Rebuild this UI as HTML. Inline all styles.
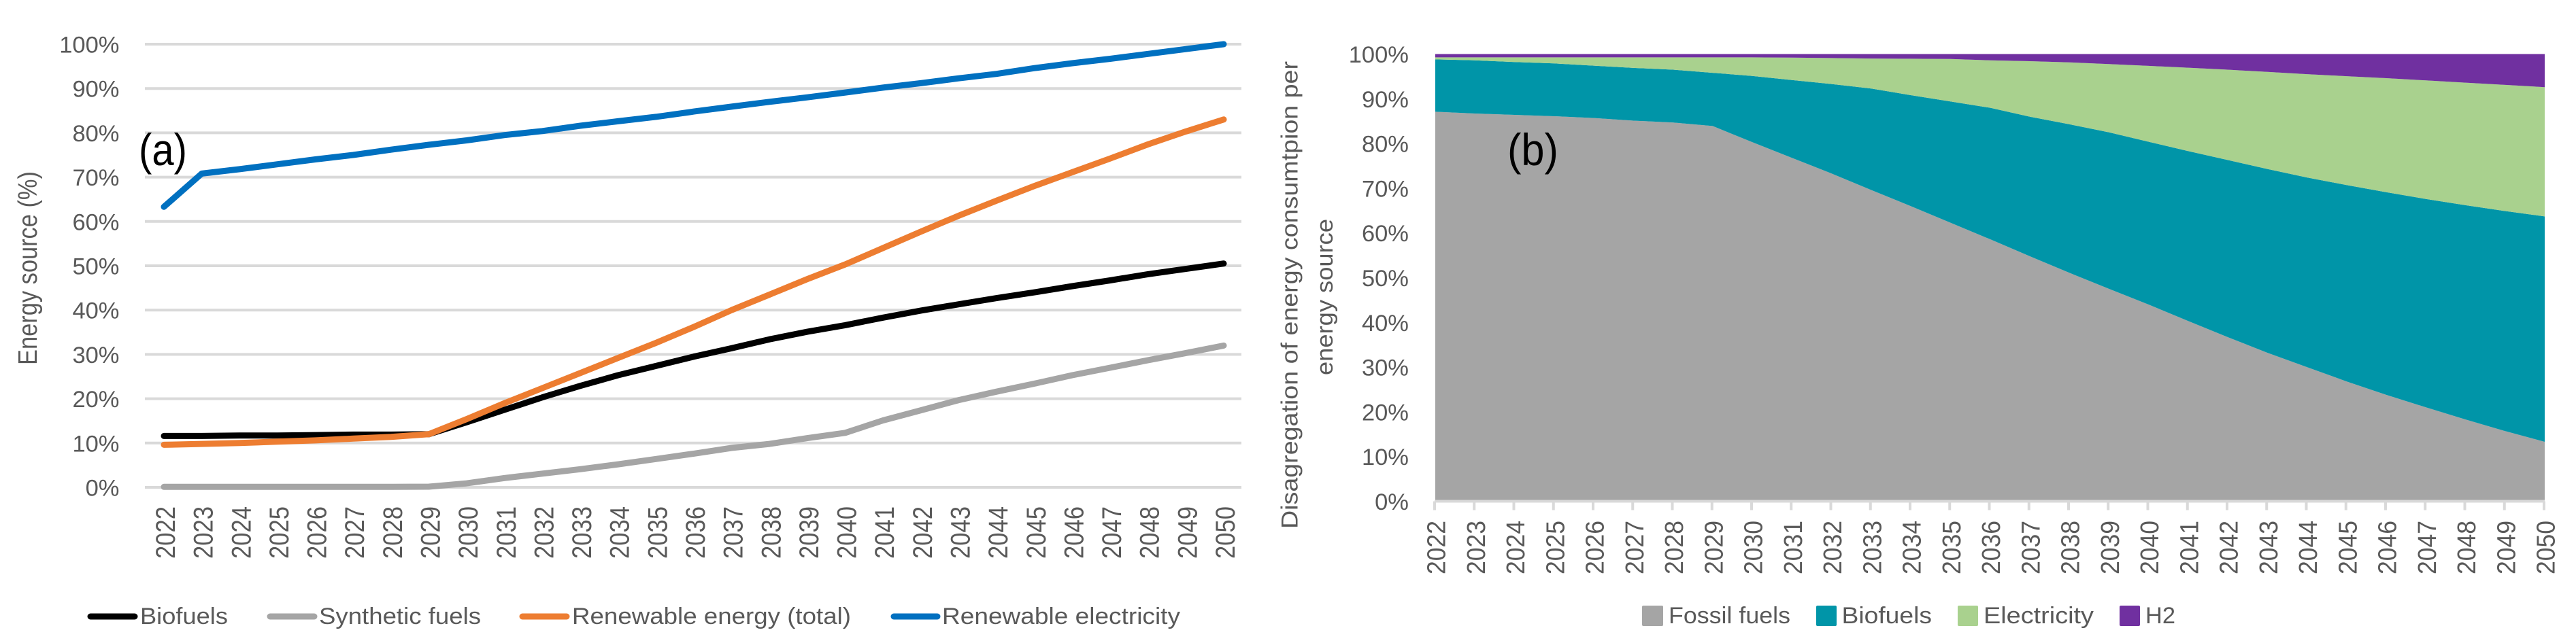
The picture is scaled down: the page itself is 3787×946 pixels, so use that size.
<!DOCTYPE html>
<html lang="en">
<head>
<meta charset="utf-8">
<title>Energy source shares 2022-2050</title>
<style>
html,body{margin:0;padding:0;background:#fff}
svg{display:block}
text{font-family:"Liberation Sans",sans-serif;fill:#595959}
</style>
</head>
<body>
<svg id="figure" xmlns="http://www.w3.org/2000/svg" width="3787" height="946" viewBox="0 0 3787 946">
  <rect width="3787" height="946" fill="#fff"/>

  <g id="chart-a">
    <g id="a-grid"></g>
    <g id="a-yticks"></g>
    <g id="a-xticks"></g>
    <g id="a-lines"></g>
    <text transform="translate(54,537) rotate(-90) scale(1,1.12)" font-size="34.4" textLength="285" lengthAdjust="spacingAndGlyphs">Energy source (%)</text>
    <text x="204" y="243" font-size="66" textLength="71" lengthAdjust="spacingAndGlyphs" style="fill:#000">(a)</text>
    <g>
      <g>
        <line x1="133" y1="907" x2="198" y2="907" stroke="#000000" stroke-width="9" stroke-linecap="round"/>
        <text x="206" y="918" font-size="34.5" textLength="129" lengthAdjust="spacingAndGlyphs">Biofuels</text>
      </g>
      <g>
        <line x1="397" y1="907" x2="462" y2="907" stroke="#A5A5A5" stroke-width="9" stroke-linecap="round"/>
        <text x="469" y="918" font-size="34.5" textLength="238" lengthAdjust="spacingAndGlyphs">Synthetic fuels</text>
      </g>
      <g>
        <line x1="768" y1="907" x2="833" y2="907" stroke="#ED7D31" stroke-width="9" stroke-linecap="round"/>
        <text x="841" y="918" font-size="34.5" textLength="410" lengthAdjust="spacingAndGlyphs">Renewable energy (total)</text>
      </g>
      <g>
        <line x1="1314" y1="907" x2="1378" y2="907" stroke="#0070C0" stroke-width="9" stroke-linecap="round"/>
        <text x="1385" y="918" font-size="34.5" textLength="350" lengthAdjust="spacingAndGlyphs">Renewable electricity</text>
      </g>
    </g>
  </g>

  <g id="chart-b">
    <g id="b-areas"></g>
    <g id="b-axis"></g>
    <g id="b-yticks"></g>
    <g id="b-xticks"></g>
    <text transform="translate(1907.7,778) rotate(-90)" font-size="34.5" textLength="688" lengthAdjust="spacingAndGlyphs">Disagregation of energy consumtpion per</text>
    <text transform="translate(1959,552) rotate(-90)" font-size="34.5" textLength="230" lengthAdjust="spacingAndGlyphs">energy source</text>
    <text x="2216" y="243" font-size="66" textLength="75" lengthAdjust="spacingAndGlyphs" style="fill:#000">(b)</text>
    <g>
      <g>
        <rect x="2414" y="891" width="31" height="30" rx="2" fill="#A5A5A5"/>
        <text x="2453" y="917" font-size="34.5" textLength="179" lengthAdjust="spacingAndGlyphs">Fossil fuels</text>
      </g>
      <g>
        <rect x="2670" y="891" width="30" height="30" rx="2" fill="#0095A8"/>
        <text x="2707.5" y="917" font-size="34.5" textLength="132.5" lengthAdjust="spacingAndGlyphs">Biofuels</text>
      </g>
      <g>
        <rect x="2878" y="891" width="30" height="30" rx="2" fill="#A9D18E"/>
        <text x="2916" y="917" font-size="34.5" textLength="162" lengthAdjust="spacingAndGlyphs">Electricity</text>
      </g>
      <g>
        <rect x="3116" y="891" width="30" height="30" rx="2" fill="#7030A0"/>
        <text x="3154" y="917" font-size="34.5" textLength="44" lengthAdjust="spacingAndGlyphs">H2</text>
      </g>
    </g>
  </g>
</svg>

<script>
const years = [2022,2023,2024,2025,2026,2027,2028,2029,2030,2031,2032,2033,2034,2035,2036,2037,2038,2039,2040,2041,2042,2043,2044,2045,2046,2047,2048,2049,2050];
const yTickLabels = ['0%','10%','20%','30%','40%','50%','60%','70%','80%','90%','100%'];
const yTickValues = [0,10,20,30,40,50,60,70,80,90,100];

// Panel (a) series, % of energy source
const biofuelsShare = [11.6,11.6,11.7,11.7,11.8,11.9,11.9,12,14.7,17.5,20.3,22.9,25.3,27.4,29.5,31.4,33.4,35.1,36.6,38.3,39.9,41.3,42.7,44,45.4,46.7,48.1,49.3,50.5];
const syntheticFuelsShare = [0.1,0.1,0.1,0.1,0.1,0.1,0.1,0.15,0.9,2.1,3.1,4.1,5.2,6.4,7.6,8.9,9.8,11.1,12.3,15.1,17.4,19.7,21.6,23.4,25.3,27,28.7,30.3,32];
const renewableTotalShare = [9.6,9.8,10,10.3,10.6,11,11.4,12,15.4,19,22.4,25.8,29.2,32.6,36.2,40,43.5,47,50.3,54,57.7,61.3,64.7,68,71.1,74.2,77.4,80.3,83];
const renewableElectricityShare = [63.3,70.8,71.8,72.9,74,75,76.2,77.3,78.3,79.5,80.4,81.6,82.6,83.6,84.8,85.9,87,88,89.1,90.2,91.2,92.3,93.3,94.6,95.7,96.7,97.8,98.9,100];

// Panel (b) stacked series, % of energy consumption
const fossilArea = [87.1,86.7,86.4,86.1,85.7,85.1,84.7,83.9,80.3,76.8,73.3,69.6,66,62.3,58.6,54.8,51.1,47.5,44,40.3,36.7,33.2,30,26.8,23.8,21,18.3,15.7,13.3];
const biofuelsArea = [11.7,11.9,11.8,11.8,11.7,11.8,11.8,11.9,14.8,17.4,20,22.7,24.8,27.1,29.4,31.2,33.2,35,36.4,38,39.6,41.1,42.4,43.9,45.3,46.6,47.9,49.2,50.4];
const electricityArea = [0.45,0.65,1.05,1.35,1.85,2.35,2.75,3.45,4.15,5,5.8,6.7,8.15,9.5,10.6,12.4,13.85,15.25,16.95,18.65,20.2,21.7,23.1,24.35,25.5,26.5,27.4,28.2,28.9];
const h2Area = [0.75,0.75,0.75,0.75,0.75,0.75,0.75,0.75,0.75,0.8,0.9,1,1.05,1.1,1.4,1.6,1.85,2.25,2.65,3.05,3.5,4,4.5,4.95,5.4,5.9,6.4,6.9,7.4];

const NS = 'http://www.w3.org/2000/svg';
function mk(tag, parent, attrs, txt) {
  const el = document.createElementNS(NS, tag);
  for (const k in attrs) el.setAttribute(k, attrs[k]);
  if (txt !== undefined) el.textContent = txt;
  parent.appendChild(el);
  return el;
}
const $ = id => document.getElementById(id);

// Axis functions
const xA = i => 241 + (1799 - 241) * i / (years.length - 1);
const yA = v => 717 - 6.52 * v;
const xB = i => 2110 + (3741 - 2110) * i / (years.length - 1);
const yB = v => 737.5 - 6.58 * v;

// Panel (a) gridlines and y ticks
yTickValues.forEach((v, i) => {
  const g = mk('line', $('a-grid'), {x1: 213, x2: 1825, y1: yA(v), y2: yA(v), stroke: '#D9D9D9', 'stroke-width': 4});
  
  
  const t = mk('text', $('a-yticks'), {x: 175.5, y: yA(v) + 12.5, 'text-anchor': 'end', 'font-size': 34.5}, yTickLabels[i]);
  
  
});

// Panel (a) year labels
years.forEach((yr, i) => {
  const t = mk('text', $('a-xticks'), {transform: 'translate(' + (xA(i) + 16) + ',822) rotate(-90) scale(1,1.16)', 'font-size': 34.6, textLength: 77, lengthAdjust: 'spacingAndGlyphs'}, yr);
  
  
});

// Panel (a) lines
const lineNames = ['biofuels', 'synthetic-fuels', 'renewable-electricity', 'renewable-total'];
const lineValues = [biofuelsShare, syntheticFuelsShare, renewableElectricityShare, renewableTotalShare];
const lineColors = ['#000000', '#A5A5A5', '#0070C0', '#ED7D31'];
lineValues.forEach((vals, s) => {
  const d = vals.map((v, i) => (i ? 'L' : 'M') + xA(i).toFixed(1) + ' ' + yA(v).toFixed(1)).join(' ');
  const p = mk('path', $('a-lines'), {d: d, fill: 'none', stroke: lineColors[s], 'stroke-width': 9, 'stroke-linecap': 'round', 'stroke-linejoin': 'round'});
  
  
});

// Panel (b) stacked areas
const areaNames = ['fossil-fuels', 'biofuels', 'electricity', 'h2'];
const areaValues = [fossilArea, biofuelsArea, electricityArea, h2Area];
const areaColors = ['#A5A5A5', '#0095A8', '#A9D18E', '#7030A0'];
let base = years.map(() => 0);
areaValues.forEach((vals, s) => {
  const top = vals.map((v, i) => base[i] + v);
  let d = top.map((v, i) => (i ? 'L' : 'M') + xB(i).toFixed(1) + ' ' + yB(v).toFixed(1)).join(' ');
  for (let i = years.length - 1; i >= 0; i--) d += ' L' + xB(i).toFixed(1) + ' ' + yB(base[i]).toFixed(1);
  const p = mk('path', $('b-areas'), {d: d + ' Z', fill: areaColors[s]});
  
  
  base = top;
});

// Panel (b) axis, ticks and labels
const axisB = mk('line', $('b-axis'), {x1: xB(0) - 1, x2: xB(years.length - 1), y1: yB(0), y2: yB(0), stroke: '#D9D9D9', 'stroke-width': 4});


yTickValues.forEach((v, i) => {
  const t = mk('text', $('b-yticks'), {x: 2071, y: yB(v) + 12.5, 'text-anchor': 'end', 'font-size': 34.5}, yTickLabels[i]);
  
  
});
years.forEach((yr, i) => {
  const m = mk('line', $('b-axis'), {x1: xB(i) - 1, x2: xB(i) - 1, y1: yB(0), y2: yB(0) + 13, stroke: '#D9D9D9', 'stroke-width': 4});
  
  
  const t = mk('text', $('b-xticks'), {transform: 'translate(' + (xB(i) + 14.5) + ',845) rotate(-90) scale(1,1.08)', 'font-size': 35.5, textLength: 79, lengthAdjust: 'spacingAndGlyphs'}, yr);
  
  
});
</script>
</body>
</html>
